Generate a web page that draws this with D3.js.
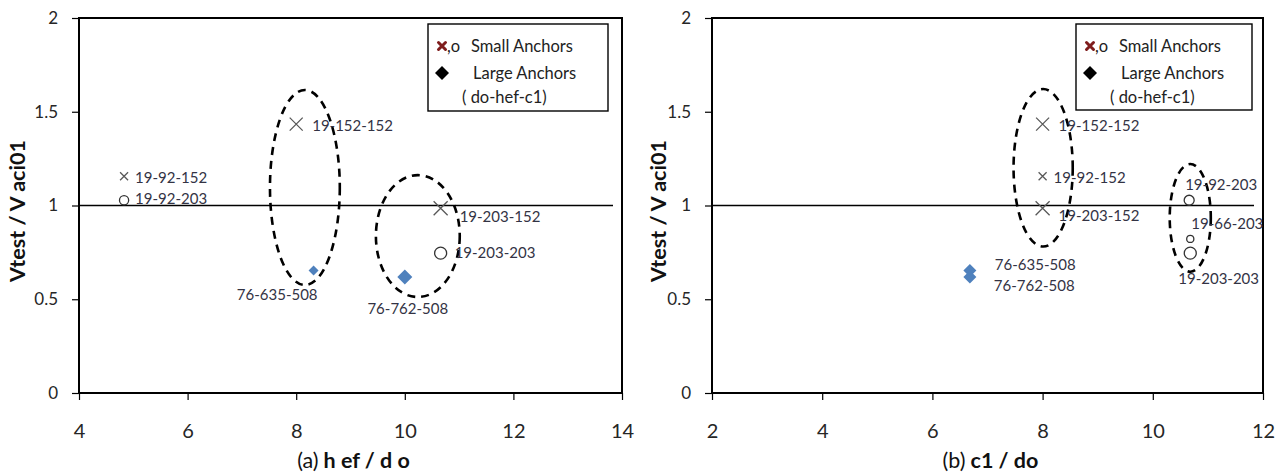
<!DOCTYPE html>
<html>
<head>
<meta charset="utf-8">
<script src="https://cdn.jsdelivr.net/npm/d3@7"></script>
<style>
  html, body { margin: 0; padding: 0; background: #fff; }
  svg { display: block; font-family: Lato, "Open Sans", sans-serif; }
</style>
</head>
<body>
<svg id="chart" width="1287" height="475"></svg>
<script>
// ---------------- DATA ----------------
const specimens = ["19-152-152", "19-92-152", "19-92-203", "19-203-152", "19-203-203", "19-66-203", "76-635-508", "76-762-508"];
const anchorGroup = ["small-152", "small-152", "small-203", "small-152", "small-203", "small-203", "large", "large"];
const hefOverDo = [8.0, 4.83, 4.83, 10.66, 10.66, null, 8.32, 10.0];
const c1OverDo = [8.0, 8.0, 10.66, 8.0, 10.68, 10.68, 6.68, 6.68];
const vRatio = [1.434, 1.156, 1.028, 0.985, 0.746, 0.822, 0.653, 0.619];

const yTicks = [0, 0.5, 1, 1.5, 2];
const xTicksA = [4, 6, 8, 10, 12, 14];
const xTicksB = [2, 4, 6, 8, 10, 12];
const referenceValue = 1;

// group ellipses (data units: cx, cy, rx, ry)
const ellipsesA = [[8.16, 1.096, 0.643, 0.52], [10.24, 0.837, 0.772, 0.325]];
const ellipsesB = [[8.01, 1.201, 0.537, 0.42], [10.68, 0.934, 0.373, 0.287]];

const legendLines = ["Small Anchors", "Large Anchors", "( do-hef-c1)"];

// ---------------- STYLE ----------------
const markerSizeA = {"19-152-152": 6.5, "19-92-152": 4, "19-92-203": 4.6, "19-203-152": 7, "19-203-203": 6, "76-635-508": 5, "76-762-508": 7.5};
const markerSizeB = {"19-152-152": 6.5, "19-92-152": 4, "19-92-203": 5, "19-203-152": 7, "19-203-203": 6, "19-66-203": 3.6, "76-635-508": 6.5, "76-762-508": 6.5};
const labelPosA = {
  "19-152-152": [16, 2, "start"], "19-92-152": [11, 1, "start"], "19-92-203": [11, -2, "start"],
  "19-203-152": [19, 8, "start"], "19-203-203": [14, 0, "start"],
  "76-635-508": [4, 24, "end"], "76-762-508": [3, 32, "middle"]
};
const labelPosB = {
  "19-152-152": [16, 2, "start"], "19-92-152": [11, 1, "start"], "19-203-152": [16, 7, "start"],
  "19-92-203": [-4, -16, "start"], "19-66-203": [1, -15, "start"], "19-203-203": [-12, 26, "start"],
  "76-635-508": [25, -6, "start"], "76-762-508": [24, 9, "start"]
};

const svg = d3.select("#chart");
const textColor = "#262626";

const y = d3.scaleLinear().domain([0, 2]).range([393, 18]);

function drawPanel(p) {
  const x = d3.scaleLinear().domain(p.domain).range([p.left, p.right]);
  const g = svg.append("g");

  // Frame
  g.append("rect").attr("x", p.left).attr("y", y(2)).attr("width", p.right - p.left).attr("height", y(0) - y(2))
    .attr("fill", "none").attr("stroke", "#000").attr("stroke-width", 2);

  // Axes with ticks
  const yAxis = d3.axisLeft(y).tickValues(yTicks).tickSize(7).tickPadding(14).tickFormat(d3.format("~g"));
  const ya = g.append("g").attr("transform", `translate(${p.left},0)`).call(yAxis);
  ya.select(".domain").remove();
  ya.selectAll("line").attr("stroke", "#000").attr("stroke-width", 1.2);
  ya.selectAll("text").attr("font-size", 17).attr("fill", textColor).attr("font-family", "Lato");

  const xAxis = d3.axisBottom(x).tickValues(p.ticks).tickSize(7).tickPadding(24).tickFormat(d3.format("~g"));
  const xa = g.append("g").attr("transform", `translate(0,${y(0)})`).call(xAxis);
  xa.select(".domain").remove();
  xa.selectAll("line").attr("stroke", "#000").attr("stroke-width", 1.2);
  xa.selectAll("text").attr("font-size", 20).attr("fill", textColor).attr("font-family", "Lato");

  // reference line
  g.append("line").attr("x1", p.left).attr("x2", p.right - 9)
    .attr("y1", y(referenceValue)).attr("y2", y(referenceValue))
    .attr("stroke", "#000").attr("stroke-width", 1.3);

  // ellipses
  g.selectAll(".ell").data(p.ellipses).enter().append("ellipse")
    .attr("cx", d => x(d[0])).attr("cy", d => y(d[1]))
    .attr("rx", d => x(d[0] + d[2]) - x(d[0])).attr("ry", d => y(d[1] - d[3]) - y(d[1]))
    .attr("fill", "none").attr("stroke", "#000").attr("stroke-width", 2.6).attr("stroke-dasharray", "8,6");

  // points
  const pts = specimens.map((s, i) => ({name: s, grp: anchorGroup[i], xv: p.xv[i], yv: vRatio[i]}))
    .filter(d => d.xv !== null && d.xv !== undefined);

  pts.forEach(d => {
    const cx = x(d.xv), cy = y(d.yv), s = p.sizes[d.name];
    if (d.grp === "small-152") {
      g.append("path").attr("d", `M${cx - s},${cy - s}L${cx + s},${cy + s}M${cx - s},${cy + s}L${cx + s},${cy - s}`)
        .attr("stroke", "#595959").attr("stroke-width", 1.3).attr("fill", "none");
    } else if (d.grp === "small-203") {
      g.append("circle").attr("cx", cx).attr("cy", cy).attr("r", s)
        .attr("fill", "none").attr("stroke", "#333").attr("stroke-width", 1.3);
    } else {
      g.append("path").attr("d", `M${cx},${cy - s}L${cx + s},${cy}L${cx},${cy + s}L${cx - s},${cy}Z`)
        .attr("fill", "#4f81bd");
    }
    const lp = p.labels[d.name];
    g.append("text").attr("x", cx + lp[0]).attr("y", cy + lp[1]).attr("dy", "0.35em")
      .attr("text-anchor", lp[2]).attr("font-size", 15).attr("fill", "#333344").text(d.name);
  });

  // legend
  const L = p.legend;
  g.append("rect").attr("x", L.x).attr("y", L.y).attr("width", L.w).attr("height", L.h)
    .attr("fill", "#fff").attr("stroke", "#000").attr("stroke-width", 1.4);
  const mx = L.x + 14, r1 = L.y + 22, r2 = L.y + 49, r3 = L.y + 73;
  g.append("path").attr("d", `M${mx - 3.5},${r1 - 3.5}L${mx + 3.5},${r1 + 3.5}M${mx - 3.5},${r1 + 3.5}L${mx + 3.5},${r1 - 3.5}`)
    .attr("stroke", "#7f1d1d").attr("stroke-width", 3).attr("stroke-linecap", "round");
  g.append("text").attr("x", mx + 5).attr("y", r1).attr("dy", "0.35em").attr("font-size", 16.5).attr("fill", "#222").text(",o");
  g.append("text").attr("x", L.x + 43).attr("y", r1).attr("dy", "0.35em").attr("font-size", 16.5).attr("fill", "#222").text(legendLines[0]);
  g.append("path").attr("d", `M${mx},${r2 - 7}L${mx + 7},${r2}L${mx},${r2 + 7}L${mx - 7},${r2}Z`).attr("fill", "#000");
  g.append("text").attr("x", L.x + 45).attr("y", r2).attr("dy", "0.35em").attr("font-size", 16.5).attr("fill", "#222").text(legendLines[1]);
  g.append("text").attr("x", L.x + 34).attr("y", r3).attr("dy", "0.35em").attr("font-size", 16.5).attr("fill", "#222").text(legendLines[2]);

  // axis titles
  svg.append("text").attr("transform", `translate(${p.ytX},211) rotate(-90)`)
    .attr("text-anchor", "middle").attr("dy", "0.35em").attr("font-size", 21.5).attr("font-weight", "bold")
    .attr("fill", "#111").text("Vtest / V aci01");
  const xt = svg.append("text").attr("x", (p.left + p.right) / 2 + 3).attr("y", 460).attr("dy", "0.35em")
    .attr("text-anchor", "middle").attr("font-size", 21.5).attr("fill", "#111");
  xt.append("tspan").text(p.titleA);
  xt.append("tspan").attr("dx", 5).attr("font-weight", "bold").text(p.titleB);
}

drawPanel({left: 79, right: 622, domain: [4, 14], ticks: xTicksA, xv: hefOverDo, ellipses: ellipsesA,
  sizes: markerSizeA, labels: labelPosA, legend: {x: 428, y: 24, w: 180, h: 87}, ytX: 17,
  titleA: "(a)", titleB: "h ef / d o"});
drawPanel({left: 712, right: 1263, domain: [2, 12], ticks: xTicksB, xv: c1OverDo, ellipses: ellipsesB,
  sizes: markerSizeB, labels: labelPosB, legend: {x: 1076, y: 24, w: 176, h: 86}, ytX: 658,
  titleA: "(b)", titleB: "c1 / do"});
</script>
</body>
</html>
